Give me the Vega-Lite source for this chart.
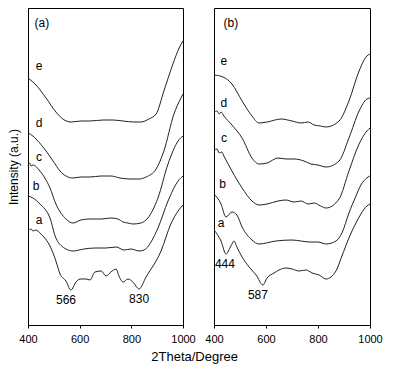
{
  "$schema": "https://vega.github.io/schema/vega-lite/v6.json",
  "padding": {"left": 6, "top": 7, "right": 5, "bottom": 5},
  "bounds": "flush",
  "spacing": 31,
  "title": {"text": "2Theta/Degree", "orient": "bottom", "anchor": "middle", "font": "Liberation Sans", "fontSize": 13, "fontWeight": "normal", "color": "#000", "offset": 6},
  "config": {
    "view": {"stroke": "#000", "strokeWidth": 1},
    "font": "Liberation Sans",
    "axis": {"labelFont": "Liberation Sans", "titleFont": "Liberation Sans", "labelColor": "#000", "titleColor": "#000", "domainColor": "#000", "tickColor": "#000", "grid": false}
  },
  "datasets": {
    "curves": [
      {"p":"a","s":"e","x":400,"y":247},{"p":"a","s":"e","x":431,"y":240},{"p":"a","s":"e","x":470,"y":227},{"p":"a","s":"e","x":508,"y":213},{"p":"a","s":"e","x":535,"y":206},{"p":"a","s":"e","x":566,"y":203},{"p":"a","s":"e","x":605,"y":204},{"p":"a","s":"e","x":640,"y":204},{"p":"a","s":"e","x":690,"y":205},{"p":"a","s":"e","x":729,"y":205},{"p":"a","s":"e","x":768,"y":204},{"p":"a","s":"e","x":810,"y":203},{"p":"a","s":"e","x":837,"y":203},{"p":"a","s":"e","x":868,"y":206},{"p":"a","s":"e","x":896,"y":211},{"p":"a","s":"e","x":926,"y":234},{"p":"a","s":"e","x":961,"y":261},{"p":"a","s":"e","x":985,"y":277},{"p":"a","s":"e","x":1000,"y":284},
      {"p":"a","s":"d","x":400,"y":192},{"p":"a","s":"d","x":419,"y":189},{"p":"a","s":"d","x":431,"y":186},{"p":"a","s":"d","x":470,"y":174},{"p":"a","s":"d","x":497,"y":164},{"p":"a","s":"d","x":524,"y":154},{"p":"a","s":"d","x":547,"y":149},{"p":"a","s":"d","x":574,"y":147},{"p":"a","s":"d","x":605,"y":148},{"p":"a","s":"d","x":640,"y":148},{"p":"a","s":"d","x":683,"y":149},{"p":"a","s":"d","x":721,"y":149},{"p":"a","s":"d","x":756,"y":147},{"p":"a","s":"d","x":795,"y":146},{"p":"a","s":"d","x":830,"y":146},{"p":"a","s":"d","x":857,"y":148},{"p":"a","s":"d","x":896,"y":156},{"p":"a","s":"d","x":926,"y":174},{"p":"a","s":"d","x":965,"y":211},{"p":"a","s":"d","x":992,"y":227},{"p":"a","s":"d","x":1000,"y":231},
      {"p":"a","s":"c","x":400,"y":159},{"p":"a","s":"c","x":406,"y":162},{"p":"a","s":"c","x":412,"y":159},{"p":"a","s":"c","x":419,"y":160},{"p":"a","s":"c","x":446,"y":154},{"p":"a","s":"c","x":485,"y":137},{"p":"a","s":"c","x":508,"y":121},{"p":"a","s":"c","x":547,"y":106},{"p":"a","s":"c","x":574,"y":102},{"p":"a","s":"c","x":605,"y":105},{"p":"a","s":"c","x":640,"y":106},{"p":"a","s":"c","x":683,"y":106},{"p":"a","s":"c","x":721,"y":107},{"p":"a","s":"c","x":748,"y":106},{"p":"a","s":"c","x":768,"y":103},{"p":"a","s":"c","x":787,"y":102},{"p":"a","s":"c","x":806,"y":101},{"p":"a","s":"c","x":837,"y":102},{"p":"a","s":"c","x":864,"y":107},{"p":"a","s":"c","x":903,"y":127},{"p":"a","s":"c","x":942,"y":161},{"p":"a","s":"c","x":981,"y":184},{"p":"a","s":"c","x":1000,"y":189},
      {"p":"a","s":"b","x":400,"y":129},{"p":"a","s":"b","x":419,"y":127},{"p":"a","s":"b","x":446,"y":121},{"p":"a","s":"b","x":485,"y":107},{"p":"a","s":"b","x":508,"y":87},{"p":"a","s":"b","x":547,"y":76},{"p":"a","s":"b","x":574,"y":74},{"p":"a","s":"b","x":617,"y":76},{"p":"a","s":"b","x":659,"y":77},{"p":"a","s":"b","x":702,"y":77},{"p":"a","s":"b","x":741,"y":78},{"p":"a","s":"b","x":772,"y":75},{"p":"a","s":"b","x":799,"y":76},{"p":"a","s":"b","x":830,"y":74},{"p":"a","s":"b","x":849,"y":75},{"p":"a","s":"b","x":903,"y":97},{"p":"a","s":"b","x":942,"y":124},{"p":"a","s":"b","x":981,"y":144},{"p":"a","s":"b","x":1000,"y":149},
      {"p":"a","s":"a","x":400,"y":94},{"p":"a","s":"a","x":412,"y":96},{"p":"a","s":"a","x":419,"y":94},{"p":"a","s":"a","x":431,"y":95},{"p":"a","s":"a","x":446,"y":92},{"p":"a","s":"a","x":458,"y":89},{"p":"a","s":"a","x":485,"y":79},{"p":"a","s":"a","x":508,"y":64},{"p":"a","s":"a","x":524,"y":51},{"p":"a","s":"a","x":547,"y":44},{"p":"a","s":"a","x":566,"y":35},{"p":"a","s":"a","x":586,"y":43},{"p":"a","s":"a","x":601,"y":46},{"p":"a","s":"a","x":625,"y":46},{"p":"a","s":"a","x":640,"y":45},{"p":"a","s":"a","x":659,"y":53},{"p":"a","s":"a","x":683,"y":54},{"p":"a","s":"a","x":702,"y":49},{"p":"a","s":"a","x":721,"y":53},{"p":"a","s":"a","x":741,"y":56},{"p":"a","s":"a","x":752,"y":49},{"p":"a","s":"a","x":768,"y":43},{"p":"a","s":"a","x":787,"y":46},{"p":"a","s":"a","x":806,"y":43},{"p":"a","s":"a","x":830,"y":36},{"p":"a","s":"a","x":857,"y":48},{"p":"a","s":"a","x":915,"y":74},{"p":"a","s":"a","x":953,"y":101},{"p":"a","s":"a","x":981,"y":114},{"p":"a","s":"a","x":1000,"y":120},
      {"p":"b","s":"e","x":400,"y":250},{"p":"b","s":"e","x":435,"y":248},{"p":"b","s":"e","x":469,"y":241},{"p":"b","s":"e","x":508,"y":224},{"p":"b","s":"e","x":546,"y":209},{"p":"b","s":"e","x":573,"y":202},{"p":"b","s":"e","x":604,"y":203},{"p":"b","s":"e","x":658,"y":206},{"p":"b","s":"e","x":700,"y":204},{"p":"b","s":"e","x":735,"y":202},{"p":"b","s":"e","x":762,"y":203},{"p":"b","s":"e","x":785,"y":200},{"p":"b","s":"e","x":810,"y":199},{"p":"b","s":"e","x":831,"y":198},{"p":"b","s":"e","x":881,"y":204},{"p":"b","s":"e","x":919,"y":224},{"p":"b","s":"e","x":958,"y":254},{"p":"b","s":"e","x":988,"y":269},{"p":"b","s":"e","x":1000,"y":271},
      {"p":"b","s":"d","x":400,"y":212},{"p":"b","s":"d","x":412,"y":214},{"p":"b","s":"d","x":420,"y":211},{"p":"b","s":"d","x":427,"y":213},{"p":"b","s":"d","x":438,"y":209},{"p":"b","s":"d","x":469,"y":200},{"p":"b","s":"d","x":508,"y":187},{"p":"b","s":"d","x":546,"y":167},{"p":"b","s":"d","x":573,"y":161},{"p":"b","s":"d","x":604,"y":162},{"p":"b","s":"d","x":646,"y":167},{"p":"b","s":"d","x":677,"y":166},{"p":"b","s":"d","x":708,"y":166},{"p":"b","s":"d","x":746,"y":164},{"p":"b","s":"d","x":773,"y":161},{"p":"b","s":"d","x":800,"y":160},{"p":"b","s":"d","x":831,"y":158},{"p":"b","s":"d","x":881,"y":164},{"p":"b","s":"d","x":919,"y":187},{"p":"b","s":"d","x":958,"y":214},{"p":"b","s":"d","x":988,"y":226},{"p":"b","s":"d","x":1000,"y":227},
      {"p":"b","s":"c","x":400,"y":175},{"p":"b","s":"c","x":412,"y":176},{"p":"b","s":"c","x":420,"y":172},{"p":"b","s":"c","x":430,"y":173},{"p":"b","s":"c","x":438,"y":169},{"p":"b","s":"c","x":469,"y":154},{"p":"b","s":"c","x":508,"y":137},{"p":"b","s":"c","x":546,"y":124},{"p":"b","s":"c","x":573,"y":120},{"p":"b","s":"c","x":604,"y":121},{"p":"b","s":"c","x":646,"y":124},{"p":"b","s":"c","x":677,"y":125},{"p":"b","s":"c","x":708,"y":123},{"p":"b","s":"c","x":735,"y":124},{"p":"b","s":"c","x":762,"y":121},{"p":"b","s":"c","x":785,"y":122},{"p":"b","s":"c","x":810,"y":119},{"p":"b","s":"c","x":831,"y":117},{"p":"b","s":"c","x":881,"y":126},{"p":"b","s":"c","x":919,"y":154},{"p":"b","s":"c","x":958,"y":181},{"p":"b","s":"c","x":988,"y":194},{"p":"b","s":"c","x":1000,"y":197},
      {"p":"b","s":"b","x":400,"y":131},{"p":"b","s":"b","x":427,"y":121},{"p":"b","s":"b","x":446,"y":108},{"p":"b","s":"b","x":469,"y":113},{"p":"b","s":"b","x":488,"y":110},{"p":"b","s":"b","x":508,"y":98},{"p":"b","s":"b","x":546,"y":85},{"p":"b","s":"b","x":573,"y":81},{"p":"b","s":"b","x":638,"y":84},{"p":"b","s":"b","x":700,"y":85},{"p":"b","s":"b","x":735,"y":84},{"p":"b","s":"b","x":765,"y":83},{"p":"b","s":"b","x":800,"y":83},{"p":"b","s":"b","x":831,"y":81},{"p":"b","s":"b","x":869,"y":84},{"p":"b","s":"b","x":892,"y":92},{"p":"b","s":"b","x":919,"y":112},{"p":"b","s":"b","x":946,"y":129},{"p":"b","s":"b","x":965,"y":140},{"p":"b","s":"b","x":988,"y":147},{"p":"b","s":"b","x":1000,"y":149},
      {"p":"b","s":"a","x":400,"y":95},{"p":"b","s":"a","x":427,"y":84},{"p":"b","s":"a","x":446,"y":71},{"p":"b","s":"a","x":465,"y":79},{"p":"b","s":"a","x":477,"y":84},{"p":"b","s":"a","x":488,"y":78},{"p":"b","s":"a","x":508,"y":68},{"p":"b","s":"a","x":535,"y":58},{"p":"b","s":"a","x":562,"y":50},{"p":"b","s":"a","x":588,"y":40},{"p":"b","s":"a","x":604,"y":47},{"p":"b","s":"a","x":631,"y":52},{"p":"b","s":"a","x":650,"y":55},{"p":"b","s":"a","x":677,"y":57},{"p":"b","s":"a","x":700,"y":56},{"p":"b","s":"a","x":727,"y":54},{"p":"b","s":"a","x":754,"y":55},{"p":"b","s":"a","x":777,"y":52},{"p":"b","s":"a","x":804,"y":50},{"p":"b","s":"a","x":831,"y":46},{"p":"b","s":"a","x":869,"y":54},{"p":"b","s":"a","x":892,"y":69},{"p":"b","s":"a","x":919,"y":87},{"p":"b","s":"a","x":946,"y":102},{"p":"b","s":"a","x":965,"y":111},{"p":"b","s":"a","x":988,"y":119},{"p":"b","s":"a","x":1000,"y":121}
    ],
    "notes": [
      {"p":"a","t":"(a)","x":454,"y":302},
      {"p":"a","t":"e","x":443,"y":259},
      {"p":"a","t":"d","x":443,"y":202},
      {"p":"a","t":"c","x":443,"y":168},
      {"p":"a","t":"b","x":431,"y":139},
      {"p":"a","t":"a","x":443,"y":105},
      {"p":"a","t":"566","x":547,"y":25},
      {"p":"a","t":"830","x":830,"y":26},
      {"p":"b","t":"(b)","x":465,"y":302},
      {"p":"b","t":"e","x":438,"y":264},
      {"p":"b","t":"d","x":438,"y":222},
      {"p":"b","t":"c","x":438,"y":187},
      {"p":"b","t":"b","x":433,"y":141},
      {"p":"b","t":"a","x":427,"y":102},
      {"p":"b","t":"444","x":442,"y":61},
      {"p":"b","t":"587","x":569,"y":30}
    ]
  },
  "hconcat": [
    {
      "width": 155, "height": 317,
      "layer": [
        {
          "data": {"name": "curves"},
          "transform": [{"filter": "datum.p === 'a'"}],
          "mark": {"type": "line", "color": "#222", "strokeWidth": 1, "interpolate": "monotone"},
          "encoding": {
            "x": {"field": "x", "type": "quantitative", "scale": {"domain": [400, 1000], "nice": false, "zero": false},
                  "axis": {"title": null, "values": [400,500,600,700,800,900,1000], "labelExpr": "datum.value % 200 === 0 ? datum.label : ''", "format": "d", "labelFontSize": 11, "tickSize": 3, "labelPadding": 5, "labelFlush": false}},
            "y": {"field": "y", "type": "quantitative", "scale": {"domain": [0, 317], "nice": false, "zero": false},
                  "axis": {"title": "Intensity (a.u.)", "labels": false, "ticks": false, "titleFontSize": 12, "titleFontWeight": "normal", "titlePadding": 8}},
            "detail": {"field": "s"}
          }
        },
        {
          "data": {"name": "notes"},
          "transform": [{"filter": "datum.p === 'a'"}],
          "mark": {"type": "text", "fontSize": 12, "color": "#000", "font": "Liberation Sans"},
          "encoding": {
            "x": {"field": "x", "type": "quantitative"},
            "y": {"field": "y", "type": "quantitative"},
            "text": {"field": "t"}
          }
        }
      ]
    },
    {
      "width": 156, "height": 317,
      "layer": [
        {
          "data": {"name": "curves"},
          "transform": [{"filter": "datum.p === 'b'"}],
          "mark": {"type": "line", "color": "#222", "strokeWidth": 1, "interpolate": "monotone"},
          "encoding": {
            "x": {"field": "x", "type": "quantitative", "scale": {"domain": [400, 1000], "nice": false, "zero": false},
                  "axis": {"title": null, "values": [400,500,600,700,800,900,1000], "labelExpr": "datum.value % 200 === 0 ? datum.label : ''", "format": "d", "labelFontSize": 11, "tickSize": 3, "labelPadding": 5, "labelFlush": false}},
            "y": {"field": "y", "type": "quantitative", "scale": {"domain": [0, 317], "nice": false, "zero": false}, "axis": null},
            "detail": {"field": "s"}
          }
        },
        {
          "data": {"name": "notes"},
          "transform": [{"filter": "datum.p === 'b'"}],
          "mark": {"type": "text", "fontSize": 12, "color": "#000", "font": "Liberation Sans"},
          "encoding": {
            "x": {"field": "x", "type": "quantitative"},
            "y": {"field": "y", "type": "quantitative"},
            "text": {"field": "t"}
          }
        }
      ]
    }
  ]
}
